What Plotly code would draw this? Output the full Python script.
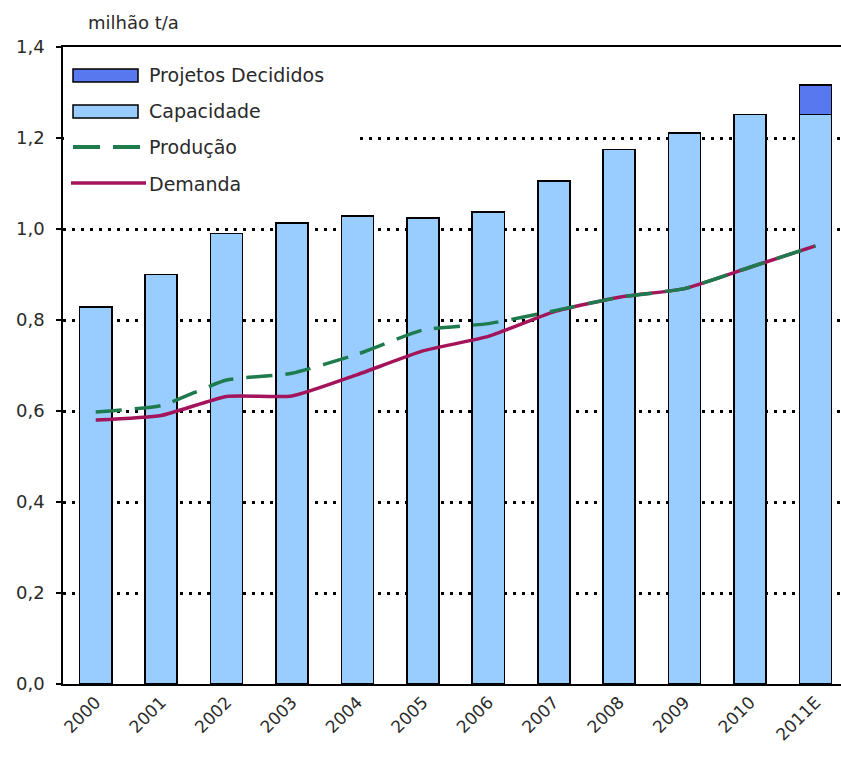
import plotly.graph_objects as go

anos = ["2000", "2001", "2002", "2003", "2004", "2005", "2006", "2007", "2008", "2009", "2010", "2011E"]
capacidade = [0.828, 0.900, 0.990, 1.013, 1.029, 1.024, 1.037, 1.106, 1.175, 1.211, 1.252, 1.252]
projetos_decididos = [0, 0, 0, 0, 0, 0, 0, 0, 0, 0, 0, 0.065]
producao = [0.598, 0.612, 0.668, 0.683, 0.725, 0.778, 0.792, 0.820, 0.850, 0.869, 0.916, 0.963]
demanda = [0.580, 0.590, 0.632, 0.633, 0.680, 0.732, 0.764, 0.818, 0.850, 0.869, 0.916, 0.963]

C_CAP = "#99CCFF"
C_PROJ = "#5878F0"
C_PROD = "#1E7B4E"
C_DEM = "#A3145A"
FONT = "DejaVu Sans, Verdana, sans-serif"
TXT = "#2a2a2a"

fig = go.Figure()
fig.add_trace(go.Bar(x=anos, y=capacidade, name="Capacidade", marker=dict(color=C_CAP, line=dict(color="black", width=1.6)), width=0.49, showlegend=False))
fig.add_trace(go.Bar(x=anos, y=projetos_decididos, name="Projetos Decididos", marker=dict(color=C_PROJ, line=dict(color="black", width=1.6)), width=0.49, showlegend=False))
fig.add_trace(go.Scatter(x=anos, y=demanda, name="Demanda", mode="lines", line=dict(color=C_DEM, width=3.5, shape="spline", smoothing=0.5), showlegend=False))
fig.add_trace(go.Scatter(x=anos, y=producao, name="Produção", mode="lines", line=dict(color=C_PROD, width=3.5, dash="26px,13px", shape="spline", smoothing=0.5), showlegend=False))

# plot area pixel geometry (for the hand-drawn legend)
L, R, T, B = 63, 841, 47, 684
def px(xp):
    return (xp - L) / (R - L)
def py(yp):
    return (B - yp) / (B - T)

shapes = [
    dict(type="rect", xref="paper", yref="paper", x0=px(64), x1=px(356), y0=py(200), y1=py(58), fillcolor="white", line=dict(width=0), layer="above"),
    dict(type="rect", xref="paper", yref="paper", x0=px(73), x1=px(138), y0=py(82), y1=py(69), fillcolor=C_PROJ, line=dict(color="black", width=1.5), layer="above"),
    dict(type="rect", xref="paper", yref="paper", x0=px(73), x1=px(138), y0=py(118), y1=py(105), fillcolor=C_CAP, line=dict(color="black", width=1.5), layer="above"),
    dict(type="line", xref="paper", yref="paper", x0=px(73), x1=px(100), y0=py(147), y1=py(147), line=dict(color=C_PROD, width=4), layer="above"),
    dict(type="line", xref="paper", yref="paper", x0=px(113), x1=px(140), y0=py(147), y1=py(147), line=dict(color=C_PROD, width=4), layer="above"),
    dict(type="line", xref="paper", yref="paper", x0=px(71), x1=px(146), y0=py(183), y1=py(183), line=dict(color=C_DEM, width=3.5), layer="above"),
]
labels = [("Projetos Decididos", 75), ("Capacidade", 111), ("Produção", 147), ("Demanda", 184)]
annotations = [
    dict(text=t, xref="paper", yref="paper", x=px(147), y=py(yy), xanchor="left", yanchor="middle", showarrow=False, font=dict(size=19, color=TXT, family=FONT))
    for t, yy in labels
]
annotations.append(dict(text="milhão t/a", xref="paper", yref="paper", x=px(86), y=py(22), xanchor="left", yanchor="middle", showarrow=False, font=dict(size=18, color=TXT, family=FONT)))

fig.update_layout(
    width=841, height=758,
    margin=dict(l=63, r=0, t=47, b=74),
    paper_bgcolor="white", plot_bgcolor="white",
    barmode="stack", bargap=0.5,
    separators=",.",
    font=dict(family=FONT, color=TXT),
    shapes=shapes, annotations=annotations,
    showlegend=False,
)
fig.update_xaxes(
    type="category", range=[-0.5, 11.39],
    showline=True, linecolor="black", linewidth=1.5, mirror=True,
    showgrid=False, ticks="", tickangle=-45,
    tickfont=dict(size=17, color=TXT, family=FONT),
)
fig.update_yaxes(
    range=[0, 1.4], dtick=0.2, tickformat=".1f",
    showline=True, linecolor="black", linewidth=1.5,
    showgrid=True, gridcolor="black", gridwidth=2.5, griddash="3px,6px",
    ticks="outside", ticklen=5, tickcolor="black", tickwidth=1.5,
    ticklabelstandoff=8,
    tickfont=dict(size=18, color=TXT, family=FONT),
    zeroline=False,
)

fig.write_html("out.html", config={"displayModeBar": False})

# remove the default page margin so the figure sits at the window's top-left corner
with open("out.html", "r", encoding="utf-8") as f:
    html = f.read()
html = html.replace("<head>", "<head><style>html,body{margin:0;padding:0;overflow:hidden;}</style>", 1)
with open("out.html", "w", encoding="utf-8") as f:
    f.write(html)
